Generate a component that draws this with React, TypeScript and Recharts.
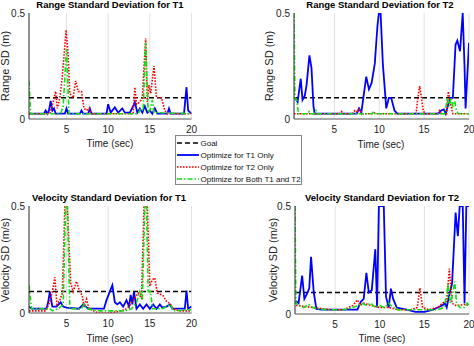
import React from 'react';
import { LineChart, Line, XAxis, YAxis, CartesianGrid } from 'recharts';

type Pt = [number, number];

const timeTicks = [5, 10, 15, 20];
const sdTicks = [0, 0.5];
const timeDomain: [number, number] = [0.5, 20];
const sdDomain: [number, number] = [0, 0.5];

const seriesNames = ['Goal', 'Optimize for T1 Only', 'Optimize for T2 Only', 'Optimize for Both T1 and T2'];
const panelTitles = [
  'Range Standard Deviation for T1',
  'Range Standard Deviation for T2',
  'Velocity Standard Deviation for T1',
  'Velocity Standard Deviation for T2',
];
const yLabels = ['Range SD (m)', 'Range SD (m)', 'Velocity SD (m/s)', 'Velocity SD (m/s)'];
const xLabel = 'Time (sec)';

const goalLevel: Pt[] = [[0.5, 0.1], [20, 0.1]];

// Range SD, T1
const rangeT1_optT1: Pt[] = [
  [0.5, 0.025], [2.3, 0.025], [2.5, 0.04], [2.7, 0.025], [2.9, 0.04], [3.1, 0.085], [3.3, 0.04], [3.5, 0.05],
  [3.7, 0.025], [4.8, 0.025], [5.0, 0.05], [5.2, 0.025], [6.6, 0.025], [6.8, 0.04], [7.0, 0.025], [7.6, 0.025],
  [7.8, 0.05], [8.0, 0.025], [9.8, 0.025], [10.0, 0.07], [10.3, 0.03], [10.8, 0.055], [11.2, 0.03], [11.7, 0.05],
  [12.0, 0.03], [12.6, 0.03], [13.0, 0.06], [13.2, 0.08], [13.5, 0.03], [13.8, 0.05], [14.1, 0.03], [14.4, 0.06],
  [14.7, 0.03], [15.0, 0.04], [15.3, 0.025], [15.6, 0.05], [15.9, 0.025], [17.1, 0.025], [17.3, 0.05], [17.5, 0.025],
  [19.1, 0.025], [19.4, 0.15], [19.6, 0.04], [20, 0.025],
];
const rangeT1_optT2: Pt[] = [
  [0.5, 0.025], [3.0, 0.025], [3.4, 0.08], [3.7, 0.13], [3.9, 0.05], [4.2, 0.1], [4.5, 0.2], [4.95, 0.42],
  [5.2, 0.3], [5.4, 0.12], [5.8, 0.1], [6.1, 0.18], [6.4, 0.13], [6.8, 0.13], [7.1, 0.05], [7.4, 0.04],
  [7.7, 0.05], [8.0, 0.025], [13.0, 0.025], [13.2, 0.15], [13.4, 0.07], [13.8, 0.08], [14.1, 0.1], [14.5, 0.38],
  [14.7, 0.08], [14.9, 0.16], [15.1, 0.12], [15.5, 0.25], [15.8, 0.1], [16.4, 0.1], [16.8, 0.04], [17.1, 0.025],
  [20, 0.025],
];
const rangeT1_optBoth: Pt[] = [
  [0.5, 0.18], [0.7, 0.025], [4.3, 0.025], [4.6, 0.06], [5.0, 0.33], [5.3, 0.025], [13.6, 0.025], [13.9, 0.05],
  [14.2, 0.04], [14.5, 0.36], [14.8, 0.03], [15.1, 0.05], [15.3, 0.09], [15.5, 0.03], [20, 0.025],
];

// Range SD, T2
const rangeT2_optT1: Pt[] = [
  [0.6, 0.1], [0.9, 0.08], [1.25, 0.19], [1.45, 0.09], [1.7, 0.11], [1.9, 0.16], [2.22, 0.3], [2.45, 0.24],
  [2.67, 0.06], [2.8, 0.025], [7.5, 0.025], [7.75, 0.05], [8.0, 0.03], [8.55, 0.2], [8.85, 0.14], [9.15, 0.17],
  [9.5, 0.26], [9.8, 0.44], [9.96, 0.5], [10.15, 0.5], [10.4, 0.26], [10.78, 0.05], [11.07, 0.1], [11.33, 0.1],
  [11.7, 0.04], [12.0, 0.025], [16.6, 0.025], [16.9, 0.04], [17.2, 0.045], [17.4, 0.025], [17.7, 0.07],
  [17.9, 0.1], [18.2, 0.1], [18.5, 0.35], [18.7, 0.37], [19.0, 0.32], [19.3, 0.5], [19.5, 0.25], [19.62, 0.05],
  [20, 0.36],
];
const rangeT2_optT2: Pt[] = [
  [0.5, 0.025], [5.6, 0.025], [5.8, 0.035], [6.0, 0.025], [7.0, 0.025], [7.3, 0.04], [7.6, 0.035], [7.8, 0.045],
  [8.1, 0.025], [9.2, 0.025], [9.4, 0.03], [9.6, 0.025], [14.1, 0.025], [14.3, 0.1], [14.5, 0.155], [14.7, 0.1],
  [14.9, 0.04], [15.1, 0.025], [16.5, 0.025], [16.7, 0.04], [16.9, 0.025], [17.5, 0.025], [17.7, 0.13],
  [18.0, 0.06], [18.2, 0.025], [20, 0.025],
];
const rangeT2_optBoth: Pt[] = [
  [0.5, 0.5], [0.6, 0.1], [0.8, 0.09], [1.0, 0.025], [2.0, 0.025], [2.2, 0.035], [2.4, 0.025], [2.8, 0.025],
  [2.95, 0.04], [3.1, 0.025], [9.2, 0.025], [9.35, 0.035], [9.5, 0.025], [17.3, 0.025], [17.6, 0.1],
  [17.8, 0.06], [18.0, 0.1], [18.2, 0.06], [18.4, 0.085], [18.6, 0.04], [18.8, 0.025], [20, 0.025],
];

// Velocity SD, T1
const velT1_optT1: Pt[] = [
  [0.5, 0.03], [0.8, 0.02], [2.6, 0.02], [2.8, 0.05], [3.0, 0.1], [3.3, 0.03], [3.8, 0.03], [4.3, 0.05],
  [4.6, 0.03], [5.0, 0.025], [6.5, 0.02], [7.0, 0.04], [7.3, 0.03], [7.6, 0.02], [9.5, 0.02], [9.8, 0.06],
  [10.5, 0.13], [10.8, 0.05], [11.1, 0.04], [11.4, 0.05], [11.8, 0.03], [12.2, 0.06], [12.5, 0.03],
  [12.7, 0.085], [12.9, 0.04], [13.1, 0.1], [13.4, 0.02], [13.8, 0.04], [14.2, 0.02], [14.6, 0.04],
  [15.0, 0.02], [15.4, 0.04], [15.8, 0.02], [16.2, 0.04], [16.5, 0.025], [17.0, 0.03], [17.4, 0.04],
  [17.7, 0.02], [19.2, 0.02], [19.4, 0.105], [19.6, 0.02], [20, 0.03],
];
const velT1_optT2: Pt[] = [
  [0.5, 0.01], [2.5, 0.01], [3.0, 0.05], [3.3, 0.1], [3.6, 0.167], [3.85, 0.04], [4.2, 0.06], [4.5, 0.093],
  [4.8, 0.5], [5.1, 0.5], [5.5, 0.14], [5.8, 0.1], [6.2, 0.148], [6.5, 0.11], [6.9, 0.08], [7.1, 0.03],
  [7.4, 0.065], [7.7, 0.02], [8.0, 0.015], [8.5, 0.005], [9.0, 0.0], [10.0, 0.0], [11.0, 0.005], [12.0, 0.015],
  [12.5, 0.03], [13.2, 0.07], [13.6, 0.093], [14.0, 0.07], [14.3, 0.5], [14.7, 0.5], [15.0, 0.125],
  [15.3, 0.155], [15.6, 0.164], [15.9, 0.093], [16.2, 0.09], [16.6, 0.08], [17.0, 0.054], [17.4, 0.045],
  [17.8, 0.02], [18.5, 0.01], [20, 0.01],
];
const velT1_optBoth: Pt[] = [
  [0.5, 0.13], [0.8, 0.02], [3.0, 0.02], [3.3, 0.01], [4.0, 0.02], [4.6, 0.04], [4.9, 0.5], [5.1, 0.5],
  [5.4, 0.02], [6.8, 0.02], [7.1, 0.04], [7.4, 0.02], [9.0, 0.01], [12.0, 0.01], [12.8, 0.02], [13.4, 0.05],
  [13.8, 0.1], [14.1, 0.06], [14.4, 0.5], [14.6, 0.5], [14.8, 0.1], [15.1, 0.1], [15.3, 0.02], [16.5, 0.02],
  [17.0, 0.03], [17.5, 0.04], [17.8, 0.01], [20, 0.015],
];

// Velocity SD, T2
const velT2_optT1: Pt[] = [
  [0.6, 0.06], [0.9, 0.05], [1.3, 0.178], [1.55, 0.07], [1.92, 0.1], [2.1, 0.12], [2.3, 0.265], [2.6, 0.1],
  [2.9, 0.023], [3.5, 0.02], [7.5, 0.02], [7.85, 0.055], [8.2, 0.07], [8.5, 0.19], [8.77, 0.1], [9.1, 0.11],
  [9.5, 0.3], [9.7, 0.03], [9.9, 0.5], [10.45, 0.5], [10.7, 0.08], [11.0, 0.03], [11.25, 0.117], [11.5, 0.07],
  [11.9, 0.03], [13.0, 0.02], [14.0, 0.01], [15.0, 0.01], [16.0, 0.02], [16.5, 0.03], [17.0, 0.04],
  [17.3, 0.05], [17.5, 0.03], [17.85, 0.1], [18.1, 0.14], [18.5, 0.47], [18.75, 0.36], [18.96, 0.5],
  [19.3, 0.5], [19.5, 0.05], [19.7, 0.5], [20, 0.5],
];
const velT2_optT2: Pt[] = [
  [0.6, 0.04], [1.5, 0.035], [2.5, 0.03], [3.5, 0.025], [4.5, 0.02], [6.0, 0.02], [6.5, 0.03], [7.0, 0.04],
  [7.5, 0.065], [7.8, 0.04], [8.2, 0.05], [9.0, 0.04], [10.0, 0.03], [11.0, 0.03], [12.0, 0.02], [13.5, 0.02],
  [14.2, 0.03], [14.5, 0.12], [14.8, 0.03], [15.5, 0.02], [16.5, 0.03], [17.0, 0.05], [17.5, 0.06],
  [17.8, 0.21], [18.1, 0.05], [18.5, 0.04], [19.0, 0.04], [19.5, 0.045], [20, 0.04],
];
const velT2_optBoth: Pt[] = [
  [0.5, 0.5], [0.6, 0.05], [1.0, 0.04], [1.5, 0.03], [2.0, 0.045], [2.5, 0.03], [3.0, 0.025], [4.0, 0.02],
  [6.0, 0.02], [7.0, 0.03], [7.6, 0.04], [8.0, 0.05], [8.5, 0.04], [9.0, 0.05], [9.5, 0.03], [10.0, 0.04],
  [10.5, 0.03], [11.0, 0.05], [11.5, 0.03], [12.0, 0.02], [16.5, 0.02], [17.2, 0.03], [17.5, 0.09],
  [17.65, 0.138], [17.9, 0.05], [18.1, 0.08], [18.4, 0.15], [18.6, 0.05], [19.0, 0.03], [19.5, 0.03],
  [19.8, 0.05], [20, 0.04],
];

const FONT = '"Liberation Sans", Arial, Helvetica, sans-serif';

const lineStyles = [
  { stroke: '#000000', dash: '5 3', w: 1.5 },
  { stroke: '#0000ff', dash: undefined as string | undefined, w: 1.8 },
  { stroke: '#ff0000', dash: '1.6 1.4', w: 1.6 },
  { stroke: '#11dd11', dash: '5 2 1.5 2', w: 1.6 },
];

const toData = (pts: Pt[]) => pts.map(([t, v]) => ({ t, v }));

type PanelProps = {
  left: number;
  top: number;
  plotLeft: number;
  plotRight: number;
  plotTop: number;
  plotBottom: number;
  series: Pt[][];
};

const W = 237;
const H = 173;

function Panel({ left, top, plotLeft, plotRight, plotTop, plotBottom, series }: PanelProps) {
  const xAxisH = 20;
  const margin = {
    top: plotTop - top,
    left: 0,
    right: left + W - plotRight,
    bottom: top + H - plotBottom - xAxisH,
  };
  const tickStyle = { fontSize: 10, fill: '#222', fontFamily: FONT };
  return (
    <div style={{ position: 'absolute', left, top, width: W, height: H }}>
      <LineChart width={W} height={H} margin={margin}>
        <CartesianGrid horizontal={false} stroke="#e2e2e2" />
        <XAxis
          type="number"
          dataKey="t"
          domain={timeDomain}
          ticks={timeTicks}
          interval={0}
          allowDataOverflow
          height={xAxisH}
          tickSize={5}
          tickLine={false}
          axisLine={{ stroke: '#555' }}
          tick={tickStyle}
        />
        <XAxis
          xAxisId="top"
          orientation="top"
          type="number"
          domain={timeDomain}
          allowDataOverflow
          height={0}
          tick={false}
          tickLine={false}
          axisLine={{ stroke: '#aaa' }}
        />
        <YAxis
          type="number"
          domain={sdDomain}
          ticks={sdTicks}
          interval={0}
          allowDataOverflow
          width={plotLeft - left}
          tickSize={2}
          tickLine={false}
          axisLine={{ stroke: '#333' }}
          tick={tickStyle}
          tickFormatter={(v: number) => String(v)}
        />
        <YAxis
          yAxisId="right"
          orientation="right"
          type="number"
          domain={sdDomain}
          allowDataOverflow
          width={0}
          tick={false}
          tickLine={false}
          axisLine={{ stroke: '#aaa' }}
        />
        {series.map((s, i) => (
          <Line
            key={i}
            data={toData(s)}
            dataKey="v"
            name={seriesNames[i]}
            type="linear"
            stroke={lineStyles[i].stroke}
            strokeWidth={lineStyles[i].w}
            strokeDasharray={lineStyles[i].dash}
            dot={false}
            activeDot={false}
            isAnimationActive={false}
          />
        ))}
      </LineChart>
    </div>
  );
}

const panels: PanelProps[] = [
  { left: 0, top: 0, plotLeft: 29, plotRight: 191.5, plotTop: 13, plotBottom: 119,
    series: [goalLevel, rangeT1_optT1, rangeT1_optT2, rangeT1_optBoth] },
  { left: 237, top: 0, plotLeft: 294, plotRight: 469, plotTop: 13, plotBottom: 119,
    series: [goalLevel, rangeT2_optT1, rangeT2_optT2, rangeT2_optBoth] },
  { left: 0, top: 173, plotLeft: 29, plotRight: 191.5, plotTop: 206, plotBottom: 313,
    series: [goalLevel, velT1_optT1, velT1_optT2, velT1_optBoth] },
  { left: 237, top: 173, plotLeft: 295, plotRight: 469, plotTop: 206, plotBottom: 314,
    series: [goalLevel, velT2_optT1, velT2_optT2, velT2_optBoth] },
];

const titlePos = [
  { x: 110, y: 8 },
  { x: 380, y: 8 },
  { x: 109, y: 201 },
  { x: 382, y: 201 },
];
const yLabelPos = [
  { x: 9, y: 66 },
  { x: 273, y: 66 },
  { x: 9, y: 260 },
  { x: 276.5, y: 260 },
];
const xLabelPos = [
  { x: 110, y: 146.5 },
  { x: 381, y: 148 },
  { x: 110, y: 341.5 },
  { x: 382, y: 342 },
];

function Legend() {
  const rowY = [8, 20, 32, 44];
  return (
    <svg
      width={127}
      height={50}
      style={{ position: 'absolute', left: 175, top: 135 }}
    >
      <rect x={0.5} y={0.5} width={126} height={49} fill="#fff" stroke="#888" strokeWidth={1} />
      {seriesNames.map((n, i) => (
        <g key={n}>
          <line
            x1={2}
            x2={24}
            y1={rowY[i]}
            y2={rowY[i]}
            stroke={lineStyles[i].stroke}
            strokeWidth={lineStyles[i].w}
            strokeDasharray={lineStyles[i].dash}
          />
          <text x={25.5} y={rowY[i] + 3} fontSize={8} fontFamily={FONT} fill="#111">
            {n}
          </text>
        </g>
      ))}
    </svg>
  );
}

export default function App() {
  return (
    <div
      style={{
        position: 'absolute',
        left: 0,
        top: 0,
        width: 474,
        height: 346,
        background: '#fff',
        overflow: 'hidden',
        fontFamily: FONT,
      }}
    >
      {panels.map((p, i) => (
        <Panel key={i} {...p} />
      ))}
      <svg width={474} height={346} style={{ position: 'absolute', left: 0, top: 0, pointerEvents: 'none' }}>
        {panelTitles.map((t, i) => (
          <text
            key={'t' + i}
            x={titlePos[i].x}
            y={titlePos[i].y}
            textAnchor="middle"
            fontSize={9.5}
            fontWeight="bold"
            fontFamily={FONT}
            fill="#000"
          >
            {t}
          </text>
        ))}
        {yLabels.map((t, i) => (
          <text
            key={'y' + i}
            x={yLabelPos[i].x}
            y={yLabelPos[i].y}
            transform={`rotate(-90 ${yLabelPos[i].x} ${yLabelPos[i].y})`}
            textAnchor="middle"
            fontSize={11}
            fontFamily={FONT}
            fill="#222"
          >
            {t}
          </text>
        ))}
        {xLabelPos.map((p, i) => (
          <text
            key={'x' + i}
            x={p.x}
            y={p.y}
            textAnchor="middle"
            fontSize={10}
            fontFamily={FONT}
            fill="#222"
          >
            {xLabel}
          </text>
        ))}
      </svg>
      <Legend />
    </div>
  );
}
